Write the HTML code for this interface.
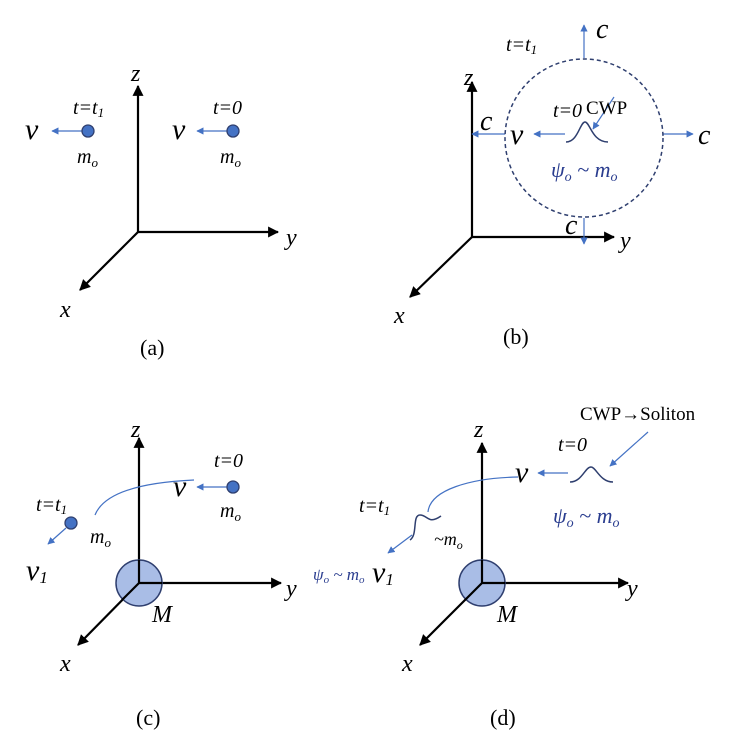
<!DOCTYPE html>
<html><head><style>
body{margin:0;background:#fff}
svg text{font-family:"Liberation Serif",serif;font-style:italic;fill:#000}
.up{font-style:normal}
.ps{fill:#2a3d8f}
</style></head><body>
<svg width="731" height="750" viewBox="0 0 731 750" xmlns="http://www.w3.org/2000/svg">
<defs>
<marker id="ak" viewBox="0 0 10 10" refX="9" refY="5" markerWidth="5" markerHeight="5" orient="auto"><path d="M0,0L10,5L0,10z" fill="#000"/></marker>
<marker id="ab" viewBox="0 0 10 10" refX="9" refY="5" markerWidth="6" markerHeight="6" orient="auto"><path d="M0,0L10,5L0,10z" fill="#4472c4"/></marker>
</defs>
<g stroke="#000" stroke-width="2.2" fill="none" marker-end="url(#ak)">
<path d="M138,232V86"/><path d="M138,232H278"/><path d="M138,232L80,290"/>
<path d="M472,237V82"/><path d="M472,237H614"/><path d="M472,237L410,297"/>
<path d="M139,583V438"/><path d="M139,583H281"/><path d="M139,583L78,645"/>
<path d="M482,583V443"/><path d="M482,583H628"/><path d="M482,583L420,645"/>
</g>
<g stroke="#4472c4" stroke-width="1.2" fill="none" marker-end="url(#ab)">
<path d="M82,131H52"/><path d="M227,131H197"/>
<path d="M584,58V25"/><path d="M505,134H472"/><path d="M663,134H693"/><path d="M584,218V244"/>
<path d="M565,134H534"/><path d="M614,97L593,129"/>
<path d="M227,487H197"/><path d="M66,528L48,544"/>
<path d="M568,473H538"/><path d="M648,432L610,466"/><path d="M412,535L388,553"/>
<path d="M194,480C150,482 105,490 95,515" marker-end="none"/>
<path d="M518,477C470,478 430,490 428,512" marker-end="none"/>
</g>
<circle cx="584" cy="138" r="79" fill="none" stroke="#2f3f6f" stroke-width="1.5" stroke-dasharray="4,3"/>
<g fill="#4472c4" stroke="#2f3f6f" stroke-width="1.3">
<circle cx="88" cy="131" r="6"/><circle cx="233" cy="131" r="6"/><circle cx="233" cy="487" r="6"/><circle cx="71" cy="523" r="6"/>
</g>
<g fill="#a9bde6" stroke="#2f3f6f" stroke-width="1.5">
<circle cx="139" cy="583" r="23"/><circle cx="482" cy="583" r="23"/>
</g>
<g stroke="#000" stroke-width="2.2"><path d="M139,583V560M139,583H162M139,583L122,600M482,583V560M482,583H505M482,583L465,600"/></g>
<g stroke="#2f3f6f" stroke-width="1.5" fill="none">
<path d="M566,142C578,142 580,122 585,122C590,122 592,142 608,142"/>
<path d="M570,482C582,482 585,467 591,467C596,467 600,482 613,482"/>
<path d="M410,540C418,535 412,515 420,515C428,515 428,525 441,516"/>
</g>
<g font-size="24">
<text x="131" y="81">z</text><text x="286" y="245">y</text><text x="60" y="317">x</text>
<text x="464" y="85">z</text><text x="620" y="248">y</text><text x="394" y="323">x</text>
<text x="131" y="437">z</text><text x="286" y="596">y</text><text x="60" y="671">x</text>
<text x="474" y="437">z</text><text x="627" y="596">y</text><text x="402" y="671">x</text>
<text x="25" y="139" font-size="30">v</text><text x="172" y="139" font-size="30">v</text>
<text x="510" y="144" font-size="30">v</text><text x="173" y="496" font-size="30">v</text><text x="515" y="482" font-size="30">v</text>
<text x="26" y="580" font-size="30">v<tspan font-size="17" dy="3">1</tspan></text>
<text x="372" y="582" font-size="30">v<tspan font-size="17" dy="3">1</tspan></text>
<text x="596" y="38" font-size="28">c</text><text x="480" y="130" font-size="28">c</text><text x="698" y="144" font-size="28">c</text><text x="565" y="234" font-size="28">c</text>
<text x="152" y="622">M</text><text x="497" y="622">M</text>
</g>
<g font-size="20">
<text x="73" y="114">t=t<tspan font-size="13" dy="3">1</tspan></text>
<text x="213" y="114">t=0</text>
<text x="77" y="163">m<tspan font-size="13" dy="4">o</tspan></text>
<text x="220" y="163">m<tspan font-size="13" dy="4">o</tspan></text>
<text x="506" y="51">t=t<tspan font-size="13" dy="3">1</tspan></text>
<text x="553" y="117">t=0</text>
<text x="214" y="467">t=0</text>
<text x="220" y="517">m<tspan font-size="13" dy="4">o</tspan></text>
<text x="36" y="511">t=t<tspan font-size="13" dy="3">1</tspan></text>
<text x="90" y="543">m<tspan font-size="13" dy="4">o</tspan></text>
<text x="558" y="451">t=0</text>
<text x="359" y="512">t=t<tspan font-size="13" dy="3">1</tspan></text>
<text x="434" y="545" font-size="18">~m<tspan font-size="12" dy="4">o</tspan></text>
<text x="551" y="177" class="ps" font-size="22">ψ<tspan font-size="14" dy="4">o</tspan><tspan dy="-4"> ~ m</tspan><tspan font-size="14" dy="4">o</tspan></text>
<text x="553" y="523" class="ps" font-size="22">ψ<tspan font-size="14" dy="4">o</tspan><tspan dy="-4"> ~ m</tspan><tspan font-size="14" dy="4">o</tspan></text>
<text x="313" y="580" class="ps" font-size="17">ψ<tspan font-size="11" dy="3">o</tspan><tspan dy="-3"> ~ m</tspan><tspan font-size="11" dy="3">o</tspan></text>
</g>
<g font-size="19">
<text x="586" y="114" class="up">CWP</text>
<text x="580" y="420" class="up">CWP→Soliton</text>
</g>
<g font-size="22">
<text x="140" y="355" class="up">(a)</text><text x="503" y="344" class="up">(b)</text>
<text x="136" y="725" class="up">(c)</text><text x="490" y="725" class="up">(d)</text>
</g>
</svg>
</body></html>
